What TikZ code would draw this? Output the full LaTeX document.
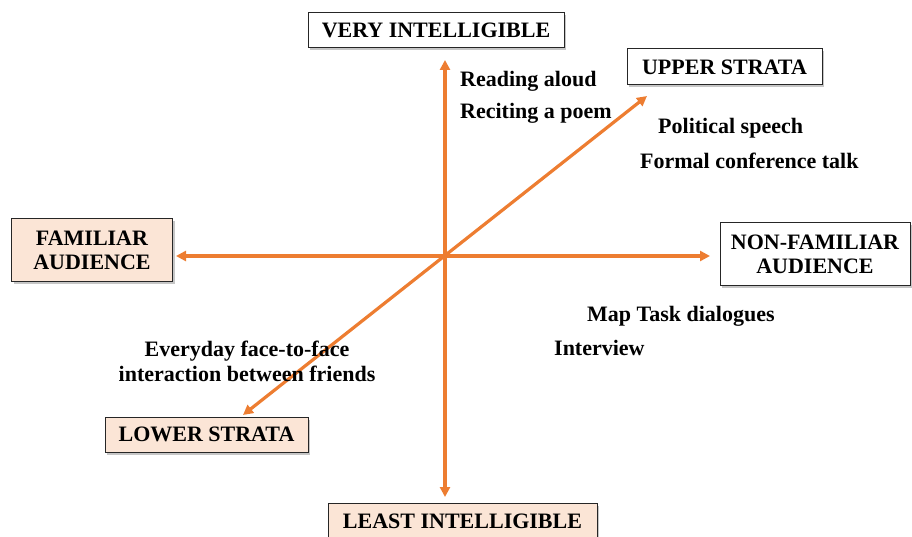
\documentclass[tikz,border=0pt]{standalone}
\usepackage{fontspec}
\setmainfont{Liberation Serif}
\usepackage{xcolor}
\usetikzlibrary{calc, positioning, shadows, arrows.meta}

\definecolor{axisorange}{HTML}{ED7D31}
\definecolor{peach}{HTML}{FBE5D6}

\begin{document}
\begin{tikzpicture}[x=1pt, y=-1pt,
    axis/.style={axisorange, line width=3.2pt, {Triangle[length=10pt,width=10pt]}-{Triangle[length=10pt,width=10pt]}},
    pole/.style={draw=black!85, line width=1pt, font=\bfseries\fontsize{22}{24}\selectfont,
        align=center, inner sep=0pt, drop shadow={shadow xshift=2pt, shadow yshift=-2.5pt, opacity=0.45}},
    lbl/.style={font=\bfseries\fontsize{22}{24}\selectfont, anchor=west, inner sep=0pt}]

    \useasboundingbox (0,0) rectangle (912,537);

    % =================================================================
    % 1. CAC HOP NHAN O DAU TRUC
    % =================================================================
    \node[pole, fill=white, minimum width=256pt, minimum height=35pt] (vint) at (436,30.5) {VERY INTELLIGIBLE};
    \node[pole, fill=peach, minimum width=269pt, minimum height=36pt] (lint) at (462.5,521) {LEAST INTELLIGIBLE};
    \node[pole, fill=peach, minimum width=161pt, minimum height=62pt] (fam) at (92,250) {FAMILIAR\\AUDIENCE};
    \node[pole, fill=white, minimum width=190pt, minimum height=62pt] (nonfam) at (815,254) {NON-FAMILIAR\\AUDIENCE};
    \node[pole, fill=white, minimum width=195pt, minimum height=36pt] (upper) at (724.5,67) {UPPER STRATA};
    \node[pole, fill=peach, minimum width=203pt, minimum height=35pt] (lower) at (206.5,434.5) {LOWER STRATA};

    % =================================================================
    % 2. CAC TRUC (mui ten hai dau)
    % =================================================================
    \coordinate (O) at (445,256);
    \coordinate (top) at (445,60);
    \coordinate (bot) at (445,497);
    \coordinate (lft) at (176,256);
    \coordinate (rgt) at (710,256);
    \coordinate (ne) at (647,96);
    \coordinate (sw) at (243,415);

    \draw[axis] (bot) -- (top);
    \draw[axis] (lft) -- (rgt);
    \draw[axis] (sw) -- (ne);

    % =================================================================
    % 3. CAC LOAI HOI THOAI
    % =================================================================
    \node[lbl] (read) at (460,81) {Reading aloud};
    \node[lbl] (poem) at (460,113) {Reciting a poem};
    \node[lbl] (pol) at (658,128) {Political speech};
    \node[lbl] (conf) at (640,161) {Formal conference talk};
    \node[lbl] (map) at (587,316) {Map Task dialogues};
    \node[lbl] (inter) at (554,348) {Interview};
    \node[lbl, anchor=center, align=center, font=\bfseries\fontsize{22}{25}\selectfont] (every) at (247,361)
        {Everyday face-to-face\\interaction between friends};

\end{tikzpicture}
\end{document}
